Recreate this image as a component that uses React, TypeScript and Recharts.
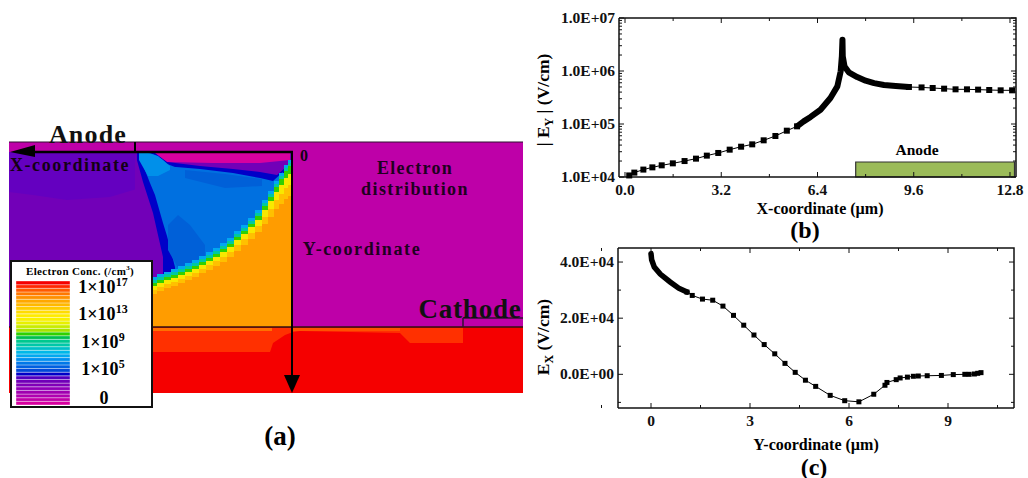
import React from 'react'
import {
  Area, Bar, BarChart, ComposedChart, Line, LineChart, ReferenceArea, ReferenceLine, XAxis, YAxis,
} from 'recharts'

const SERIF = '"Liberation Serif", "Times New Roman", serif'

// panel (b): |Ey| along the X coordinate
const eyX = [0.14, 0.31, 0.61, 0.91, 1.22, 1.59, 1.98, 2.36, 2.72, 3.1, 3.48, 3.86, 4.23, 4.61, 5.0, 5.38, 5.72]
const eyV = [1.07e4, 1.21e4, 1.38e4, 1.52e4, 1.66e4, 1.81e4, 2.0e4, 2.22e4, 2.53e4, 2.84e4, 3.28e4, 3.73e4, 4.13e4, 4.92e4, 5.94e4, 7.48e4, 9.04e4]
const eyPeakX = [5.72, 5.94, 6.17, 6.5, 6.83, 7.06, 7.17, 7.21, 7.23, 7.24, 7.3, 7.44, 7.72, 8.0, 8.28, 8.61, 9.0, 9.44]
const eyPeakV = [9.04e4, 1.12e5, 1.36e5, 1.86e5, 3.1e5, 5.13e5, 9.86e5, 1.89e6, 3.9e6, 1.89e6, 1.22e6, 9.44e5, 7.7e5, 6.57e5, 5.9e5, 5.44e5, 5.21e5, 4.99e5]
const eyTailX = [9.44, 9.86, 10.23, 10.61, 10.99, 11.37, 11.74, 12.11, 12.49, 12.87]
const eyTailV = [4.99e5, 4.9e5, 4.78e5, 4.64e5, 4.51e5, 4.51e5, 4.45e5, 4.38e5, 4.32e5, 4.32e5]
const eyXMajor = [0, 3.2, 6.4, 9.6, 12.8]
const eyXMinor = [1.6, 4.8, 8, 11.2]
const eyYMajor = [1e4, 1e5, 1e6, 1e7]
const eyYMinor = [2e4, 3e4, 4e4, 5e4, 6e4, 7e4, 8e4, 9e4, 2e5, 3e5, 4e5, 5e5, 6e5, 7e5, 8e5, 9e5, 2e6, 3e6, 4e6, 5e6, 6e6, 7e6, 8e6, 9e6]

// panel (c): Ex along the Y coordinate
const exX = [1.09, 1.25, 1.56, 1.87, 2.18, 2.5, 2.81, 3.12, 3.43, 3.75, 4.06, 4.37, 4.68, 4.99, 5.43, 5.87, 6.3, 6.75, 7.09, 7.15, 7.43, 7.55, 7.77, 7.95, 8.1, 8.37, 8.8, 9.16, 9.51, 9.64, 9.8, 9.9, 10.0]
const exV = [2.93e4, 2.81e4, 2.68e4, 2.64e4, 2.43e4, 2.1e4, 1.75e4, 1.4e4, 1.06e4, 7300, 3900, 700, -2100, -4300, -7500, -9400, -9800, -7100, -3900, -2900, -1900, -1300, -1000, -700, -600, -500, -400, -100, 0, 0, 120, 360, 600]
const exDenseX = [0, 0.02, 0.1, 0.28, 0.58, 0.84, 1.09]
const exDenseV = [4.3e4, 4.08e4, 3.82e4, 3.57e4, 3.29e4, 3.07e4, 2.93e4]
const exXMajor = [0, 3, 6, 9]
const exXMinor = [-1.5, 1.5, 4.5, 7.5, 10.5]
const exYMajor = [0, 2e4, 4e4]
const exYMinor = [-1e4, 1e4, 3e4]

// panel (a): contour bands of the device, in picture units
const contourX = [150, 157, 164, 171, 178, 185, 192, 199, 206, 213, 220, 227, 234, 241, 248, 255, 262, 268, 274, 279, 284, 288, 292]
const skyTop = [277, 274, 272, 269, 266, 263, 260, 256, 252, 248, 243, 238, 231, 225, 218, 210, 200, 191, 181, 173, 165, 160, 155]
const tealTop = [280, 277, 274, 272, 269, 266, 263, 259, 255, 251, 246, 241, 234, 228, 221, 213, 203, 194, 184, 176, 168, 163, 158]
const greenTop = [283, 280, 277, 275, 272, 269, 266, 262, 258, 254, 249, 244, 237, 231, 224, 216, 206, 197, 187, 179, 171, 166, 161]
const yellowTop = [286, 283, 280, 278, 275, 272, 269, 265, 261, 257, 252, 247, 240, 234, 227, 220, 210, 201, 192, 185, 178, 174, 170]
const goldTop = [290, 287, 284, 282, 279, 276, 273, 269, 265, 261, 257, 252, 245, 239, 233, 226, 217, 209, 200, 194, 188, 185, 182]
const orangeTop = [294, 291, 288, 286, 283, 280, 277, 273, 270, 266, 262, 257, 251, 245, 239, 232, 224, 217, 209, 204, 199, 196, 193]

const band = (xs: number[], tops: number[], bottoms: number[] | number) =>
  xs.map((x, i) => ({ x, band: [tops[i], Array.isArray(bottoms) ? bottoms[i] : bottoms] }))

const deviceBands = [
  { fill: '#BE00A8', data: band([9, 523], [142, 142], 327) },
  { fill: '#7200B8', data: band([9, 292], [152, 152], 327) },
  { fill: '#6400C0', data: band([9, 33, 67, 110, 140], [152, 152, 152, 152, 152], [192, 195, 200, 197, 188]) },
  { fill: '#D800A0', data: band([153, 167, 213, 260, 290], [153, 153, 153, 153, 153], [153, 162, 163, 163, 160]) },
  { fill: '#0000C8', data: band([137, 155, 167, 200, 233, 260, 277, 285, 292], [152, 153, 162, 166, 169, 172, 175, 168, 160], 327) },
  { fill: '#0070E0', data: band([139, 150, 155, 163, 167, 175, 176, 200, 233, 260, 273, 283], [152, 153, 155, 160, 164, 167, 167, 169, 173, 178, 181, 172], [155, 183, 195, 223, 236, 267, 327, 327, 327, 327, 327, 327]) },
  { fill: '#0060D8', data: band([168, 178, 190, 205], [225, 215, 225, 245], [250, 268, 268, 262]) },
  { fill: '#0060D8', data: band([185, 225, 262], [170, 174, 179], [178, 188, 186]) },
  { fill: '#0090EA', data: band([139, 148, 158, 170], [153, 153, 156, 166], [160, 176, 176, 170]) },
  { fill: '#7200B8', data: band([135, 143, 153, 163], [153, 182, 213, 257], 327) },
]
const contourBands = [
  { fill: '#00A8F0', tops: skyTop },
  { fill: '#00C8A0', tops: tealTop },
  { fill: '#30D000', tops: greenTop },
  { fill: '#F8E800', tops: yellowTop },
  { fill: '#FFC000', tops: goldTop },
  { fill: '#FF9C00', tops: orangeTop },
]
const substrateBands = [
  { fill: '#F50000', data: band([9, 523], [327, 327], 393) },
  { fill: '#FF3000', data: band([152, 270, 273, 285, 293, 300, 400, 410, 463], [328, 328, 328, 328, 328, 328, 328, 328, 328], [352, 352, 343, 335, 332, 331, 333, 343, 343]) },
  { fill: '#FF7000', data: band([152, 272], [328, 328], 331) },
  { fill: '#FF5000', data: band([293, 400], [328, 328], 331) },
]
const arrowBands = [
  { fill: '#000', data: band([10, 35], [152, 145], [152, 157]) },
  { fill: '#000', data: band([284, 292, 300], [375, 375, 375], [375, 393, 375]) },
]

// colour bar, top to bottom
const legendColors = [
  '#F50000', '#FF2800', '#FF5A00', '#FF7800', '#FF9000', '#FFA800', '#FFB800', '#FFCC00', '#FFDC00', '#FFEC00',
  '#F8F000', '#E8F000', '#C8EC00', '#A8E400', '#30D000', '#00C050', '#00C890', '#00C8A8', '#00C0C8', '#00B8E8',
  '#00A8F0', '#0090F0', '#0078E8', '#0060E0', '#0048D8', '#0000C8', '#5000C0', '#7000B8', '#8000B8', '#9000B8',
  '#A000B0', '#B000B0', '#C000A8', '#D800A0',
]
const legendRow: Record<string, number | string> = { name: 'scale' }
legendColors.forEach((_, i) => { legendRow[`c${i}`] = 1 })
const legendLabels = [
  { exp: '17', x: 103, y: 287 },
  { exp: '13', x: 103, y: 314 },
  { exp: '9', x: 103, y: 342 },
  { exp: '5', x: 103, y: 369 },
]

function Note({ x, y, size = 16, color = '#000', rotate = 0, spacing = 0, children }: any) {
  return (
    <div style={{
      position: 'absolute', left: x, top: y, transform: `translate(-50%, -50%) rotate(${rotate}deg)`,
      fontFamily: SERIF, fontWeight: 700, fontSize: size, color, whiteSpace: 'nowrap', lineHeight: 1, letterSpacing: spacing,
    }}>{children}</div>
  )
}

const labelStyle = { fontFamily: SERIF, fontWeight: 700, fontSize: 15.5, fill: '#111' }

// ticks point inwards
function BottomTick({ x, y, payload, labels, format }: any) {
  const major = labels.includes(payload.value)
  return (
    <g>
      <line x1={x} x2={x} y1={y} y2={y - (major ? 5 : 3)} stroke="#111" />
      {major && <text x={x} y={y + 18} textAnchor="middle" {...labelStyle}>{format(payload.value)}</text>}
    </g>
  )
}
function LeftTick({ x, y, payload, labels, format }: any) {
  const major = labels.includes(payload.value)
  return (
    <g>
      <line x1={x} x2={x + (major ? 5 : 3)} y1={y} y2={y} stroke="#111" />
      {major && <text x={x - 4} y={y + 5} textAnchor="end" {...labelStyle}>{format(payload.value)}</text>}
    </g>
  )
}

// top and right edges of the frame, with the same tick values mirrored
function MirrorFrame({ left, top, width, height, xDomain, yDomain, xMajor, xMinor, yMajor, yMinor, log = false }: any) {
  const toX = (v: number) => left + ((v - xDomain[0]) / (xDomain[1] - xDomain[0])) * width
  const f = (v: number) => (log ? Math.log10(v) : v)
  const toY = (v: number) => top + height - ((f(v) - f(yDomain[0])) / (f(yDomain[1]) - f(yDomain[0]))) * height
  const right = left + width
  return (
    <svg width={498} height={240} style={{ position: 'absolute', left: 0, top: 0, pointerEvents: 'none' }}>
      <path d={`M${left} ${top}H${right}V${top + height}`} fill="none" stroke="#111" strokeWidth={1.5} />
      {[...xMajor, ...xMinor].map((v: number) => (
        <line key={`x${v}`} x1={toX(v)} x2={toX(v)} y1={top} y2={top + (xMajor.includes(v) ? 5 : 3)} stroke="#111" />
      ))}
      {[...yMajor, ...yMinor].map((v: number) => (
        <line key={`y${v}`} x1={right} x2={right - (yMajor.includes(v) ? 5 : 3)} y1={toY(v)} y2={toY(v)} stroke="#111" />
      ))}
    </svg>
  )
}

function SquareDot({ cx, cy, size = 6 }: any) {
  if (cx == null || cy == null) return null
  return <rect x={cx - size / 2} y={cy - size / 2} width={size} height={size} fill="#000" />
}

const axisLine = { stroke: '#111', strokeWidth: 1.5 }
const axisBase = { interval: 0, axisLine, tickLine: false, tickSize: 0, tickMargin: 0, type: 'number' as const }
const rows = (xs: number[], vs: number[], key: string) => xs.map((x, i) => ({ x, [key]: vs[i] }))

function DevicePanel() {
  return (
    <div style={{ position: 'absolute', left: 0, top: 0, width: 530, height: 478 }}>
      <ComposedChart width={530} height={478} margin={{ top: 0, right: 0, bottom: 0, left: 0 }}>
        <XAxis dataKey="x" type="number" domain={[0, 530]} hide />
        <YAxis type="number" domain={[0, 478]} reversed hide />
        {deviceBands.map((b, i) => (
          <Area key={`d${i}`} data={b.data} dataKey="band" fill={b.fill} fillOpacity={1} stroke="none" dot={false} activeDot={false} isAnimationActive={false} />
        ))}
        {contourBands.map((b, i) => (
          <Area key={`c${i}`} data={band(contourX, b.tops, 327)} dataKey="band" type="stepAfter" fill={b.fill} fillOpacity={1} stroke="none" dot={false} activeDot={false} isAnimationActive={false} />
        ))}
        {substrateBands.map((b, i) => (
          <Area key={`s${i}`} data={b.data} dataKey="band" fill={b.fill} fillOpacity={1} stroke="none" dot={false} activeDot={false} isAnimationActive={false} />
        ))}
        {arrowBands.map((b, i) => (
          <Area key={`a${i}`} data={b.data} dataKey="band" fill={b.fill} fillOpacity={1} stroke="none" dot={false} activeDot={false} isAnimationActive={false} />
        ))}
        <ReferenceLine segment={[{ x: 9, y: 142 }, { x: 523, y: 142 }]} stroke="#301030" strokeWidth={1} />
        <ReferenceLine segment={[{ x: 135, y: 142 }, { x: 135, y: 152 }]} stroke="#000" strokeWidth={2} />
        <ReferenceLine segment={[{ x: 30, y: 152 }, { x: 293, y: 152 }]} stroke="#000" strokeWidth={2.5} />
        <ReferenceLine segment={[{ x: 9, y: 327 }, { x: 523, y: 327 }]} stroke="#301010" strokeWidth={1.5} />
        <ReferenceLine segment={[{ x: 292, y: 152 }, { x: 292, y: 378 }]} stroke="#000" strokeWidth={2} />
        <ReferenceLine segment={[{ x: 463, y: 318 }, { x: 463, y: 327 }]} stroke="#301030" strokeWidth={1.5} />
        <ReferenceLine segment={[{ x: 463, y: 318 }, { x: 523, y: 318 }]} stroke="#301030" strokeWidth={1.5} />
      </ComposedChart>

      <Note x={88} y={135} size={26} spacing={1.2} color="#111">Anode</Note>
      <Note x={70} y={165} size={18} spacing={1.6} color="#140014">X-coordinate</Note>
      <Note x={304} y={156} size={16} color="#140014">0</Note>
      <Note x={415} y={168} size={18} spacing={1.3} color="#200020">Electron</Note>
      <Note x={415} y={189} size={18} spacing={1.4} color="#200020">distribution</Note>
      <Note x={362} y={249} size={18} spacing={1.6} color="#200020">Y-coordinate</Note>
      <Note x={470} y={309} size={27} spacing={0.8} color="#111">Cathode</Note>
      <Note x={280} y={436} size={27}>(a)</Note>

      <div style={{ position: 'absolute', left: 10, top: 260, width: 139, height: 144, background: '#fff', border: '2px solid #111' }} />
      <Note x={80} y={271} size={11} spacing={0.35}>Electron Conc. (/cm<sup style={{ fontSize: 7 }}>3</sup>)</Note>
      <div style={{ position: 'absolute', left: 16, top: 281, width: 54, height: 124 }}>
        <BarChart width={54} height={124} data={[legendRow]} margin={{ top: 0, right: 0, bottom: 0, left: 0 }} barCategoryGap={0}>
          <XAxis dataKey="name" hide />
          <YAxis type="number" domain={[0, legendColors.length]} hide />
          {[...legendColors].reverse().map((c, i) => (
            <Bar key={c} dataKey={`c${legendColors.length - 1 - i}`} stackId="scale" fill={c} stroke="#fff" strokeOpacity={0.45} strokeWidth={0.8} activeBar={false} isAnimationActive={false} />
          ))}
        </BarChart>
      </div>
      {legendLabels.map((l) => (
        <Note key={l.exp} x={l.x} y={l.y} size={18}>1×10<sup style={{ fontSize: 12, lineHeight: 0 }}>{l.exp}</sup></Note>
      ))}
      <Note x={104} y={398} size={18}>0</Note>
    </div>
  )
}

function FieldXPanel() {
  const fmtY = (v: number) => `1.0E+0${Math.round(Math.log10(v))}`
  return (
    <div style={{ position: 'absolute', left: 530, top: 0, width: 498, height: 240 }}>
      <LineChart width={498} height={240} margin={{ top: 18, right: 12, bottom: 62, left: 88 }}>
        <XAxis {...axisBase} dataKey="x" domain={[-0.2, 13]} ticks={[...eyXMajor, ...eyXMinor]} height={1} tick={<BottomTick labels={eyXMajor} format={(v: number) => v.toFixed(1)} />} />
        <YAxis {...axisBase} scale="log" domain={[1e4, 1e7]} ticks={[...eyYMajor, ...eyYMinor]} width={1} tick={<LeftTick labels={eyYMajor} format={fmtY} />} />
        <ReferenceArea x1={7.67} x2={12.95} y1={1e4} y2={1.92e4} fill="#9BBB59" fillOpacity={1} stroke="#333" strokeWidth={1.2} />
        <Line data={rows(eyX, eyV, 'ey')} dataKey="ey" stroke="#000" strokeWidth={1} dot={<SquareDot />} activeDot={false} isAnimationActive={false} />
        <Line data={rows(eyPeakX, eyPeakV, 'peak')} dataKey="peak" stroke="#000" strokeWidth={6} strokeLinejoin="round" dot={false} activeDot={false} isAnimationActive={false} />
        <Line data={rows(eyTailX, eyTailV, 'tail')} dataKey="tail" stroke="#000" strokeWidth={1} dot={<SquareDot />} activeDot={false} isAnimationActive={false} />
      </LineChart>
      <MirrorFrame left={89} top={18} width={397} height={159} log xDomain={[-0.2, 13]} yDomain={[1e4, 1e7]} xMajor={eyXMajor} xMinor={eyXMinor} yMajor={eyYMajor} yMinor={eyYMinor} />
      <Note x={387} y={150} size={15.5}>Anode</Note>
      <Note x={15} y={100} size={17.5} rotate={-90}>| E<sub style={{ fontSize: 12 }}>Y</sub> | (V/cm)</Note>
      <Note x={290} y={209} size={16}>X-coordinate (µm)</Note>
      <Note x={275} y={230} size={24}>(b)</Note>
    </div>
  )
}

function FieldYPanel() {
  const fmtY = (v: number) => (v === 0 ? '0.0E+00' : `${(v / 1e4).toFixed(1)}E+04`)
  return (
    <div style={{ position: 'absolute', left: 530, top: 240, width: 498, height: 238 }}>
      <LineChart width={498} height={238} margin={{ top: 8, right: 14, bottom: 69, left: 87 }}>
        <XAxis {...axisBase} dataKey="x" domain={[-1, 11]} ticks={[...exXMajor, ...exXMinor]} height={1} tick={<BottomTick labels={exXMajor} format={(v: number) => String(v)} />} />
        <YAxis {...axisBase} domain={[-1.2e4, 4.5e4]} ticks={[...exYMajor, ...exYMinor]} width={1} tick={<LeftTick labels={exYMajor} format={fmtY} />} />
        <Line data={rows(exX, exV, 'ex')} dataKey="ex" stroke="#000" strokeWidth={1} dot={<SquareDot size={5} />} activeDot={false} isAnimationActive={false} />
        <Line data={rows(exDenseX, exDenseV, 'dense')} dataKey="dense" stroke="#000" strokeWidth={5.5} strokeLinecap="round" dot={false} activeDot={false} isAnimationActive={false} />
      </LineChart>
      <MirrorFrame left={88} top={8} width={396} height={160} xDomain={[-1, 11]} yDomain={[-1.2e4, 4.5e4]} xMajor={exXMajor} xMinor={exXMinor} yMajor={exYMajor} yMinor={exYMinor} />
      <Note x={15} y={97} size={17.5} rotate={-90}>E<sub style={{ fontSize: 12 }}>X</sub> (V/cm)</Note>
      <Note x={286} y={205} size={16}>Y-coordinate (µm)</Note>
      <Note x={284} y={227} size={24}>(c)</Note>
    </div>
  )
}

export default function App() {
  return (
    <div style={{ position: 'absolute', left: 0, top: 0, width: 1028, height: 478, background: '#fff' }}>
      <DevicePanel />
      <FieldXPanel />
      <FieldYPanel />
    </div>
  )
}
